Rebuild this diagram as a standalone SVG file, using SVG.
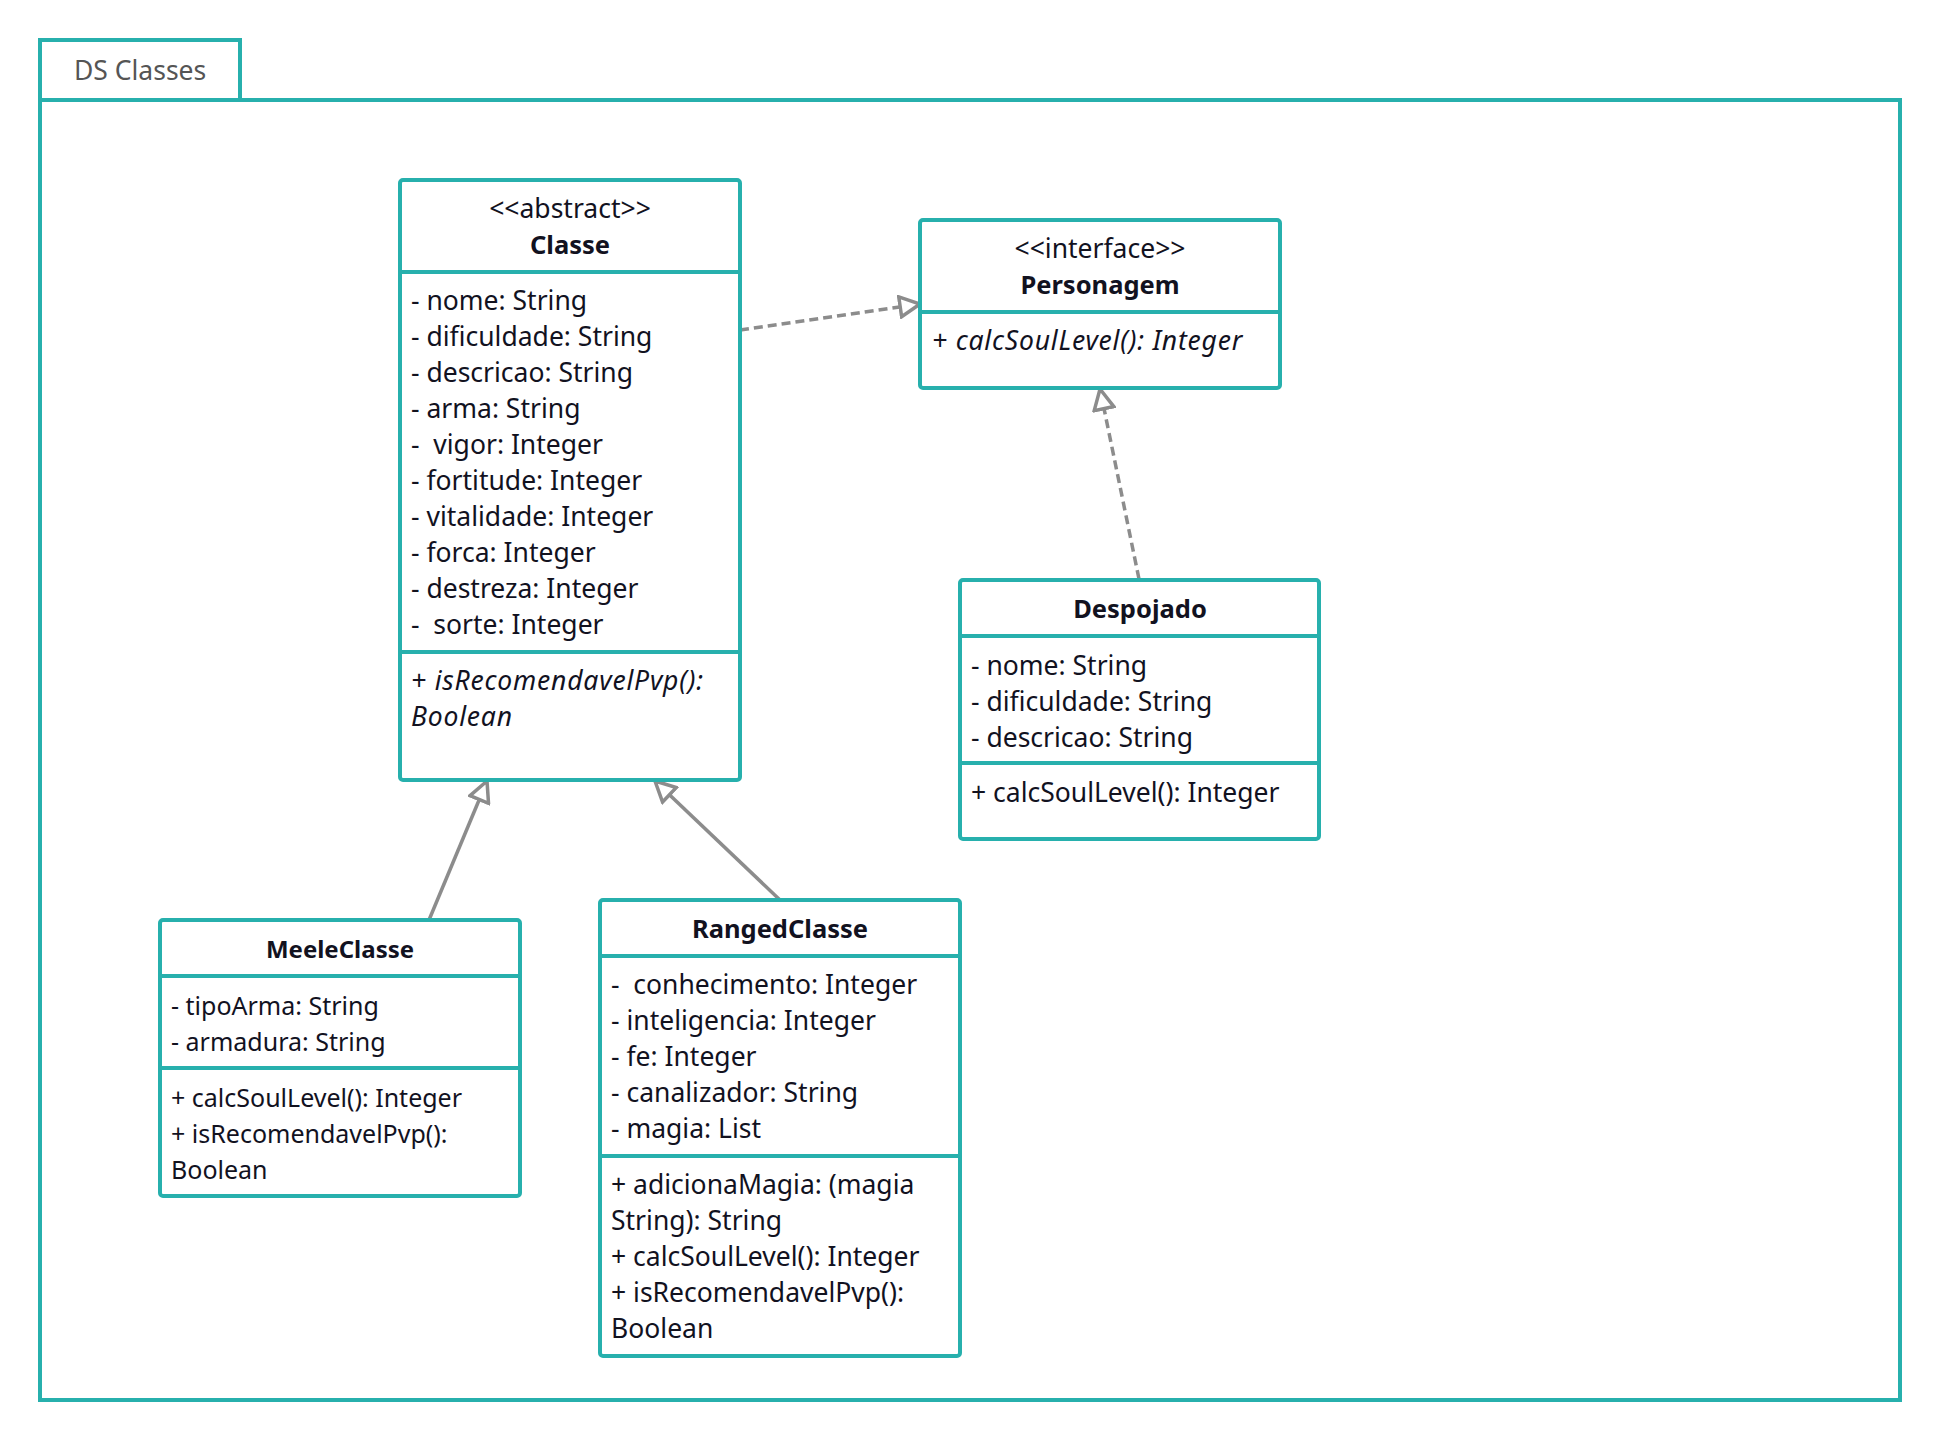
<svg xmlns="http://www.w3.org/2000/svg" width="1941" height="1441" viewBox="0 0 1941 1441">
<defs>
<style>
.box{fill:#fff;stroke:#27b0ad;stroke-width:4}
.sep{stroke:#27b0ad;stroke-width:4}
text{font-family:"Noto Sans","Open Sans","DejaVu Sans",sans-serif;font-size:26.5px;fill:#12121f}
.t{font-weight:bold;text-anchor:middle;font-size:25.5px}
.st{text-anchor:middle}
.i{font-style:italic;letter-spacing:0.8px}
.pkg{fill:#555}
.m{font-size:25px}
.mt{font-size:24px}
.conn{fill:none;stroke:#8c8c8c;stroke-width:3.5}
.dash{stroke-dasharray:9 5}
</style>
<marker id="tri" viewBox="0 0 24 24" refX="22" refY="12" markerWidth="24" markerHeight="24" markerUnits="userSpaceOnUse" orient="auto">
<path d="M2,2 L22,12 L2,22 Z" fill="#fff" stroke="#8c8c8c" stroke-width="3.5" stroke-linejoin="miter"/>
</marker>
</defs>
<rect width="1941" height="1441" fill="#fff"/>
<g id="package">
<rect x="40" y="40" width="200" height="60" fill="#fff" stroke="#27b0ad" stroke-width="4"/>
<rect x="40" y="100" width="1860" height="1300" fill="none" stroke="#27b0ad" stroke-width="4"/>
<text class="pkg" x="74" y="80">DS Classes</text>
</g>
<g id="connectors">
<line class="conn dash" x1="740" y1="330" x2="920" y2="304" marker-end="url(#tri)"/>
<line class="conn dash" x1="1139" y1="579" x2="1100" y2="389" marker-end="url(#tri)"/>
<line class="conn" x1="429" y1="920" x2="487" y2="781" marker-end="url(#tri)"/>
<line class="conn" x1="780" y1="900" x2="655" y2="781" marker-end="url(#tri)"/>
</g>
<g id="Classe">
<rect class="box" x="400" y="180" width="340" height="600" rx="3"/>
<line class="sep" x1="400" y1="272" x2="740" y2="272"/>
<line class="sep" x1="400" y1="652" x2="740" y2="652"/>
<text class="st" x="570" y="218">&lt;&lt;abstract&gt;&gt;</text>
<text class="t" x="570" y="254">Classe</text>
<text x="411" y="310">- nome: String</text>
<text x="411" y="346">- dificuldade: String</text>
<text x="411" y="382">- descricao: String</text>
<text x="411" y="418">- arma: String</text>
<text x="411" y="454" xml:space="preserve">-  vigor: Integer</text>
<text x="411" y="490">- fortitude: Integer</text>
<text x="411" y="526">- vitalidade: Integer</text>
<text x="411" y="562">- forca: Integer</text>
<text x="411" y="598">- destreza: Integer</text>
<text x="411" y="634" xml:space="preserve">-  sorte: Integer</text>
<text class="i" x="411" y="690">+ isRecomendavelPvp():</text>
<text class="i" x="411" y="726">Boolean</text>
</g>
<g id="Personagem">
<rect class="box" x="920" y="220" width="360" height="168" rx="3"/>
<line class="sep" x1="920" y1="312" x2="1280" y2="312"/>
<text class="st" x="1100" y="258">&lt;&lt;interface&gt;&gt;</text>
<text class="t" x="1100" y="294">Personagem</text>
<text class="i" x="932" y="350">+ calcSoulLevel(): Integer</text>
</g>
<g id="Despojado">
<rect class="box" x="960" y="580" width="359" height="259" rx="3"/>
<line class="sep" x1="960" y1="636" x2="1319" y2="636"/>
<line class="sep" x1="960" y1="763" x2="1319" y2="763"/>
<text class="t" x="1140" y="618">Despojado</text>
<text x="971" y="675">- nome: String</text>
<text x="971" y="711">- dificuldade: String</text>
<text x="971" y="747">- descricao: String</text>
<text x="971" y="802">+ calcSoulLevel(): Integer</text>
</g>
<g id="MeeleClasse">
<rect class="box" x="160" y="920" width="360" height="276" rx="3"/>
<line class="sep" x1="160" y1="976" x2="520" y2="976"/>
<line class="sep" x1="160" y1="1068" x2="520" y2="1068"/>
<text class="t mt" x="340" y="958">MeeleClasse</text>
<text class="m" x="171" y="1015">- tipoArma: String</text>
<text class="m" x="171" y="1051">- armadura: String</text>
<text class="m" x="171" y="1107">+ calcSoulLevel(): Integer</text>
<text class="m" x="171" y="1143">+ isRecomendavelPvp():</text>
<text class="m" x="171" y="1179">Boolean</text>
</g>
<g id="RangedClasse">
<rect class="box" x="600" y="900" width="360" height="456" rx="3"/>
<line class="sep" x1="600" y1="956" x2="960" y2="956"/>
<line class="sep" x1="600" y1="1156" x2="960" y2="1156"/>
<text class="t" x="780" y="938">RangedClasse</text>
<text x="611" y="994" xml:space="preserve">-  conhecimento: Integer</text>
<text x="611" y="1030">- inteligencia: Integer</text>
<text x="611" y="1066">- fe: Integer</text>
<text x="611" y="1102">- canalizador: String</text>
<text x="611" y="1138">- magia: List</text>
<text x="611" y="1194">+ adicionaMagia: (magia</text>
<text x="611" y="1230">String): String</text>
<text x="611" y="1266">+ calcSoulLevel(): Integer</text>
<text x="611" y="1302">+ isRecomendavelPvp():</text>
<text x="611" y="1338">Boolean</text>
</g>
</svg>
